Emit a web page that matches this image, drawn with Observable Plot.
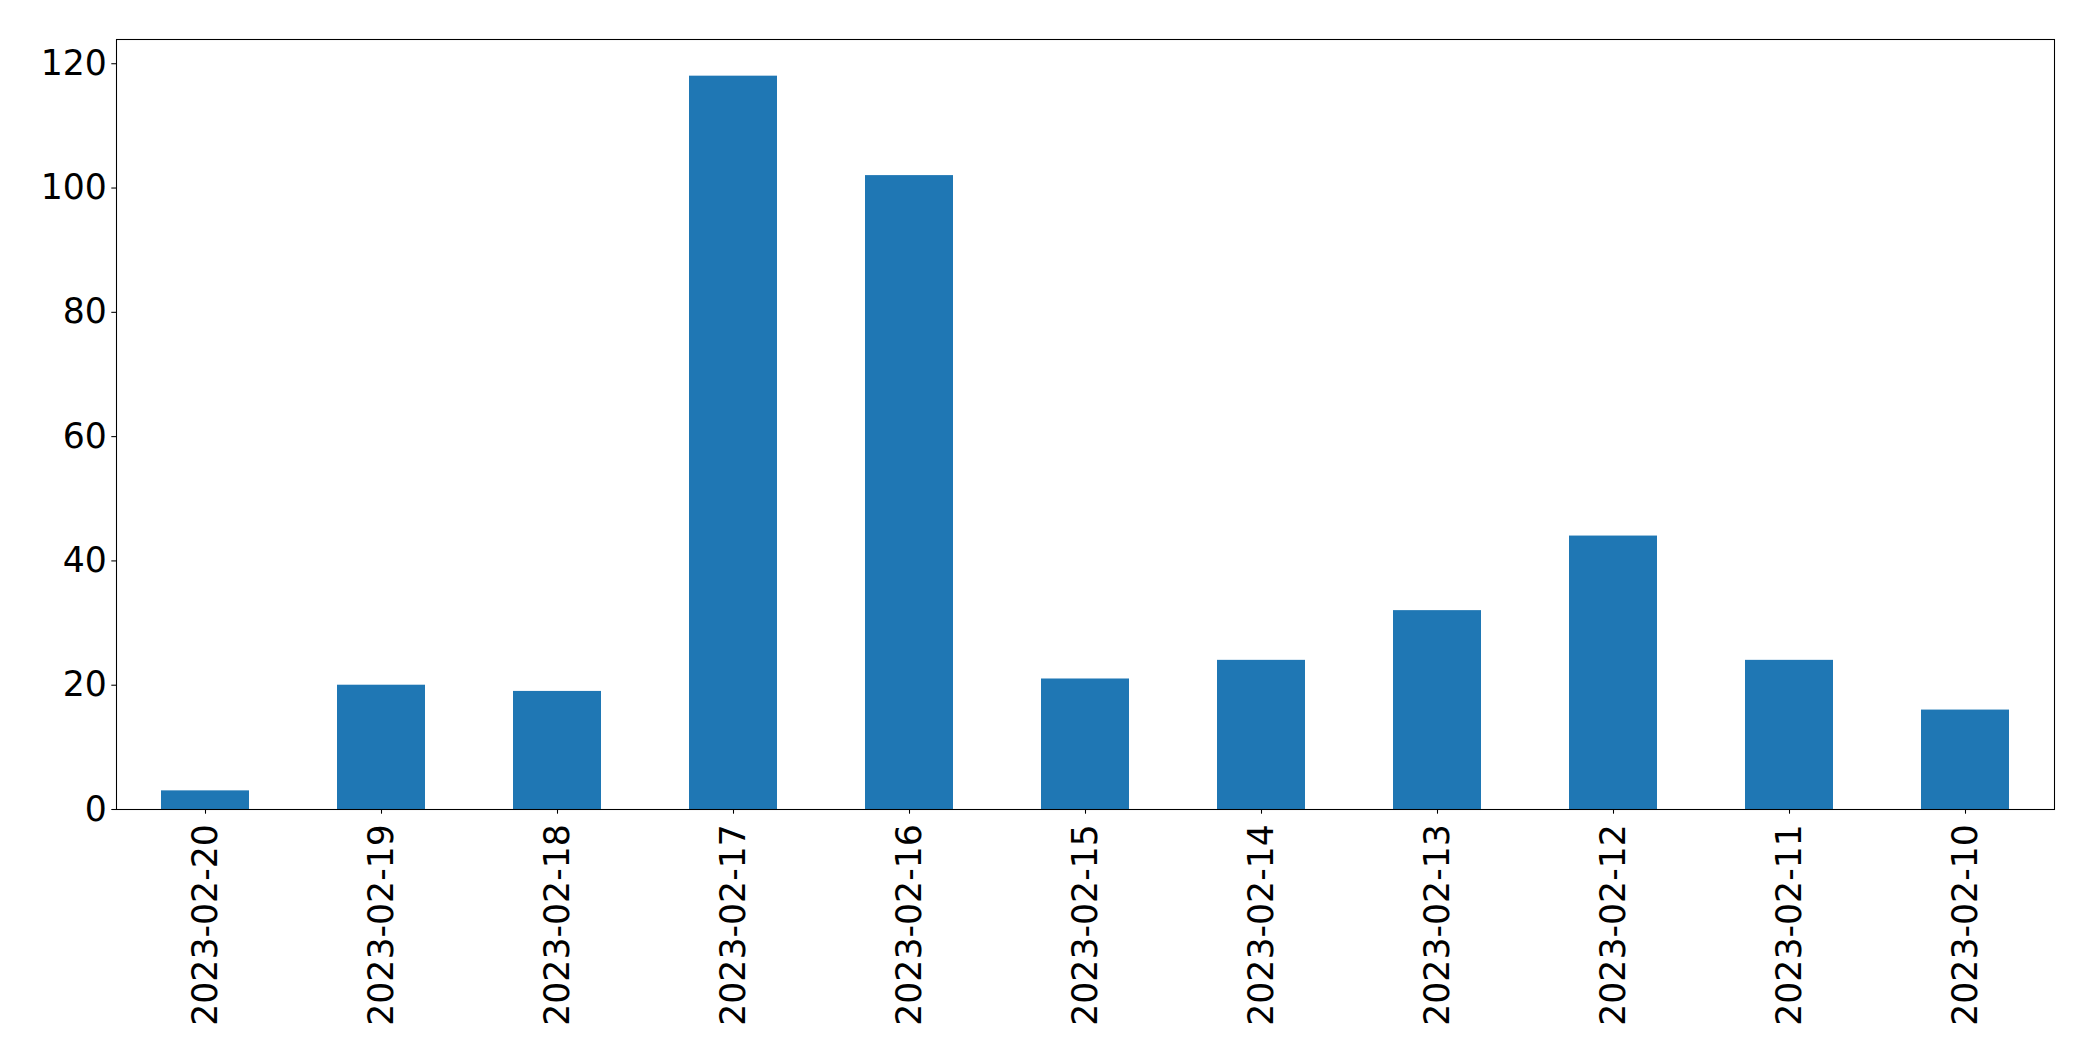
<!DOCTYPE html>
<html>
<head>
<meta charset="utf-8">
<script src="https://cdn.jsdelivr.net/npm/d3@7"></script>
<script src="https://cdn.jsdelivr.net/npm/@observablehq/plot@0.6"></script>
<style>
  html, body { margin: 0; padding: 0; background: #fff; }
  #chart svg { display: block; }
</style>
</head>
<body>
<div id="chart"></div>
<script>
const dates = ["2023-02-20", "2023-02-19", "2023-02-18", "2023-02-17", "2023-02-16", "2023-02-15", "2023-02-14", "2023-02-13", "2023-02-12", "2023-02-11", "2023-02-10"];
const counts = [3, 20, 19, 118, 102, 21, 24, 32, 44, 24, 16];
const yTicks = [0, 20, 40, 60, 80, 100, 120];

const data = dates.map((d, i) => ({date: d, count: counts[i]}));
const yMax = d3.max(counts) * 1.05;

const chart = Plot.plot({
  width: 2093,
  height: 1061,
  marginLeft: 116,
  marginRight: 39,
  marginTop: 39,
  marginBottom: 252,
  style: {fontFamily: "DejaVu Sans", fontSize: "34.7px", color: "#000", background: "#fff"},
  x: {type: "band", domain: dates, paddingInner: 0.5, paddingOuter: 0.25, label: null},
  y: {domain: [0, yMax], label: null},
  marks: [
    Plot.barY(data, {x: "date", y: "count", fill: "#1f77b4"}),
    Plot.axisY({ticks: yTicks, tickSize: 4.7, tickPadding: 4.9, label: null, fontSize: 34.7, stroke: "#000", strokeWidth: 1.07}),
    Plot.axisX({tickSize: 4.7, tickPadding: 10, tickRotate: -90, label: null, fontSize: 34.7, stroke: "#000", strokeWidth: 1.07}),
    Plot.frame({stroke: "#000", strokeWidth: 1.07})
  ]
});
document.getElementById("chart").appendChild(chart);
</script>
</body>
</html>
